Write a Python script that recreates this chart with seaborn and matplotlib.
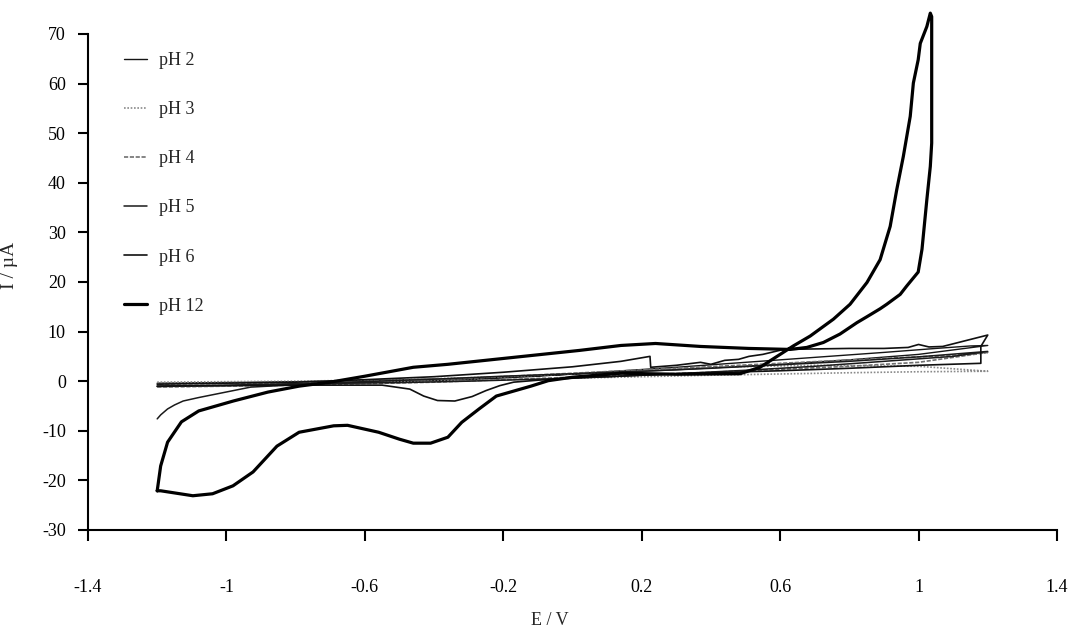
import numpy as np
import pandas as pd
import matplotlib
matplotlib.use("Agg")
import matplotlib.pyplot as plt
import seaborn as sns

# Cyclic voltammograms: potential E (V) and current I (uA) along each scan loop
ph_labels = ["pH 2", "pH 3", "pH 4", "pH 5", "pH 6", "pH 12"]

e_ph2 = [-1.2, -0.9, -0.6, -0.3, 0.0, 0.3, 0.6, 0.8, 1.0, 1.1, 1.2,
         1.15, 1.05, 0.9, 0.7, 0.5, 0.3, 0.1, -0.1, -0.3, -0.6, -0.9, -1.2]
i_ph2 = [-0.4, -0.2, 0.1, 0.6, 1.4, 2.3, 3.4, 4.3, 5.4, 6.3, 7.2,
         7.1, 6.6, 5.8, 4.8, 3.8, 2.8, 1.9, 1.0, 0.3, -0.3, -0.8, -1.1]

e_ph3 = [-1.2, -0.8, -0.4, 0.0, 0.4, 0.8, 1.0, 1.2,
         1.0, 0.7, 0.4, 0.1, -0.2, -0.5, -0.8, -1.2]
i_ph3 = [-0.4, -0.3, 0.0, 0.6, 1.2, 1.7, 1.9, 2.0,
         3.0, 3.2, 2.8, 1.8, 0.9, 0.3, 0.0, -0.2]

e_ph4 = [-1.2, -0.8, -0.4, 0.0, 0.4, 0.8, 1.0, 1.2,
         1.1, 0.9, 0.6, 0.3, 0.0, -0.3, -0.6, -0.9, -1.2]
i_ph4 = [-1.2, -0.8, -0.2, 0.8, 1.8, 3.0, 3.8, 5.8,
         5.2, 4.6, 3.6, 2.6, 1.6, 0.6, 0.0, -0.4, -0.6]

e_ph5 = [-1.2, -1.0, -0.8, -0.6, -0.4, -0.2, 0.0, 0.2, 0.4, 0.6, 0.8, 1.0, 1.2,
         1.1, 0.9, 0.7, 0.5, 0.3, 0.1, -0.1, -0.3, -0.5, -0.65, -0.75, -0.85,
         -0.93, -1.03, -1.08, -1.125, -1.15, -1.17, -1.19, -1.2]
i_ph5 = [-1.0, -0.8, -0.5, -0.1, 0.4, 1.0, 1.5, 2.0, 2.6, 3.3, 4.0, 4.9, 6.0,
         5.0, 4.0, 3.0, 2.2, 1.5, 0.9, 0.4, 0.0, -0.3, -0.4, -0.6, -0.9,
         -1.2, -2.6, -3.3, -4.0, -4.8, -5.6, -6.8, -7.6]

e_ph6 = [-1.2, -1.0, -0.8, -0.6, -0.4, -0.2, 0.0, 0.14, 0.224, 0.226, 0.30,
         0.37, 0.40, 0.44, 0.48, 0.51, 0.55, 0.58, 0.61, 0.70, 0.80, 0.90,
         0.97, 1.0, 1.03, 1.07, 1.2, 1.18, 1.18, 1.0, 0.8, 0.6, 0.4, 0.2,
         0.0, -0.1, -0.17, -0.21, -0.25, -0.29, -0.34, -0.39, -0.43, -0.47,
         -0.55, -0.8, -1.0, -1.2]
i_ph6 = [-0.6, -0.4, -0.2, 0.3, 0.9, 1.8, 2.9, 4.0, 5.0, 2.8, 3.2,
         3.8, 3.4, 4.2, 4.4, 5.0, 5.4, 5.9, 6.4, 6.5, 6.6, 6.6,
         6.8, 7.4, 6.9, 7.0, 9.3, 7.0, 3.6, 3.2, 2.6, 2.1, 1.7, 1.2,
         0.6, 0.2, -0.2, -0.9, -1.9, -3.1, -4.0, -3.9, -3.0, -1.6,
         -0.8, -0.8, -0.9, -1.0]

e_ph12 = [-1.20, -1.19, -1.17, -1.13, -1.08, -0.98, -0.88, -0.79, -0.70,
          -0.60, -0.46, -0.36, -0.17, 0.02, 0.14, 0.24, 0.37, 0.51, 0.629,
          0.677, 0.725, 0.773, 0.822, 0.851, 0.889, 0.908, 0.947, 0.966,
          0.999, 1.010, 1.024, 1.034, 1.038, 1.038, 1.038, 1.034, 1.024,
          1.005, 0.999, 0.985, 0.976, 0.956, 0.937, 0.918, 0.889, 0.851,
          0.802, 0.754, 0.687, 0.638, 0.542, 0.484, 0.30, 0.14, 0.00,
          -0.07, -0.12, -0.17, -0.22, -0.27, -0.32, -0.36, -0.41, -0.46,
          -0.50, -0.56, -0.65, -0.69, -0.79, -0.854, -0.923, -0.981, -1.04,
          -1.097, -1.19, -1.20]
i_ph12 = [-22.1, -17.1, -12.3, -8.2, -6.0, -4.0, -2.2, -1.0, -0.2,
          1.0, 2.8, 3.4, 4.8, 6.2, 7.2, 7.6, 7.0, 6.6, 6.4,
          6.8, 7.8, 9.5, 11.8, 13.0, 14.6, 15.5, 17.5, 19.2,
          22.0, 26.6, 36.6, 43.3, 48.0, 63.0, 73.5, 74.2, 71.5,
          68.1, 64.8, 60.1, 53.4, 45.3, 38.6, 31.2, 24.5, 19.9,
          15.5, 12.5, 9.1, 7.1, 2.8, 1.5, 1.4, 1.6, 0.8,
          0.1, -1.0, -2.0, -3.0, -5.6, -8.3, -11.3, -12.5, -12.5,
          -11.7, -10.3, -8.9, -9.0, -10.3, -13.1, -18.3, -21.1, -22.7,
          -23.1, -22.1, -22.1]

series = [
    (e_ph2, i_ph2, dict(color="#151515", lw=1.0, ls="-")),
    (e_ph3, i_ph3, dict(color="#8a8a8a", lw=1.2, ls=(0, (1, 1)))),
    (e_ph4, i_ph4, dict(color="#707070", lw=1.2, ls=(0, (2.5, 1)))),
    (e_ph5, i_ph5, dict(color="#1a1a1a", lw=1.1, ls="-")),
    (e_ph6, i_ph6, dict(color="#101010", lw=1.2, ls="-")),
    (e_ph12, i_ph12, dict(color="#000000", lw=2.3, ls="-")),
]

x_ticks = [-1.4, -1.0, -0.6, -0.2, 0.2, 0.6, 1.0, 1.4]
x_tick_labels = ["-1.4", "-1", "-0.6", "-0.2", "0.2", "0.6", "1", "1.4"]
y_ticks = [-30, -20, -10, 0, 10, 20, 30, 40, 50, 60, 70]

sns.set_style("ticks")
plt.rcParams["font.family"] = ["Liberation Serif", "DejaVu Serif"]

fig = plt.figure(figsize=(10.77, 6.35), dpi=100)
ax = fig.add_axes([0.0817, 0.1654, 0.8997, 0.7811])

for label, (e, i, style) in zip(ph_labels, series):
    df = pd.DataFrame({"E": e, "I": i})
    sns.lineplot(data=df, x="E", y="I", sort=False, estimator=None, ax=ax,
                 label=label, color=style["color"], linewidth=style["lw"],
                 linestyle=style["ls"])

for line in ax.lines:
    line.set_clip_on(False)
    line.set_solid_joinstyle("round")

ax.set_xlim(-1.4, 1.4)
ax.set_ylim(-30, 70)
ax.set_xticks(x_ticks)
ax.set_xticklabels(x_tick_labels)
ax.set_yticks(y_ticks)
ax.set_yticklabels([str(v) for v in y_ticks])

for side in ("top", "right"):
    ax.spines[side].set_visible(False)
for side in ("left", "bottom"):
    ax.spines[side].set_linewidth(1.5)
    ax.spines[side].set_color("black")

ax.tick_params(axis="x", direction="out", length=8, width=1.5, pad=27,
               labelsize=13, colors="black")
ax.tick_params(axis="y", direction="out", length=7, width=1.5, pad=9,
               labelsize=13, colors="black")

ax.set_xlabel("E / V", fontsize=13)
ax.set_ylabel("I / µA", fontsize=14)
ax.xaxis.set_label_coords(0.477, -0.165)
ax.yaxis.set_label_coords(-0.072, 0.534)

ax.legend(loc="upper left", bbox_to_anchor=(124 / 1077, 1 - 52 / 635),
          bbox_transform=fig.transFigure, frameon=False, fontsize=13,
          handlelength=1.3, handletextpad=0.65, labelspacing=1.78,
          borderpad=0, borderaxespad=0)

fig.savefig("out.png", dpi=100, facecolor="white")
